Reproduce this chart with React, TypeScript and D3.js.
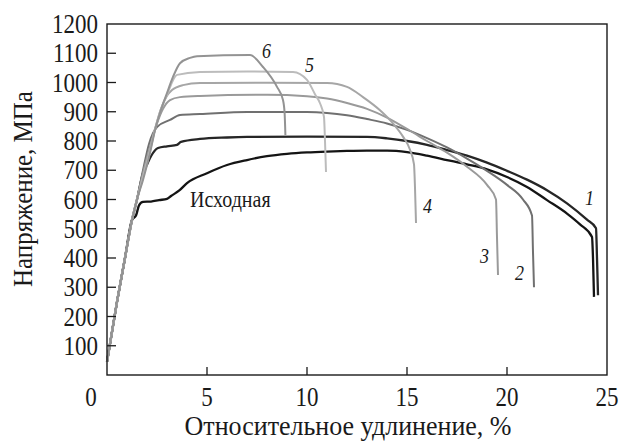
import React, { useEffect, useRef } from 'react'
import * as d3 from 'd3'

// strain, % / stress, MPa
const elastic: [number, number][] = [[0, 45], [0.5, 250], [0.9, 400], [1.25, 530]]

const curveBase: [number, number][] = [
  [1.45, 545], [1.6, 580], [1.8, 592], [2.2, 593], [2.6, 598], [3.0, 602], [3.2, 612], [3.6, 630],
  [4.0, 656], [5.0, 690], [6.0, 718], [7.0, 735], [8, 748], [9, 756], [10, 761], [11, 764],
  [12, 766], [13, 767], [14, 767], [15, 762], [16, 750], [17, 735], [18, 720], [19, 703],
  [20, 677], [21, 643], [22, 598], [23, 552], [23.65, 515], [24.25, 472], [24.3, 400], [24.35, 267],
]
const curve1: [number, number][] = [
  [1.5, 600], [1.8, 690], [2.0, 720], [2.2, 748], [2.55, 776], [3.0, 782], [3.5, 787], [3.7, 797],
  [4.65, 807], [6, 812], [7, 814], [10, 815], [13, 814], [14, 809], [15, 800], [16, 787], [17, 769],
  [18, 750], [19, 726], [20, 698], [21, 668], [22, 632], [23, 587], [24, 531], [24.45, 502],
  [24.5, 400], [24.55, 273],
]
const curve2: [number, number][] = [
  [1.5, 600], [1.8, 700], [2.1, 790], [2.5, 848], [3.15, 872], [3.65, 889], [4.65, 892], [7, 899],
  [10, 899], [11, 896], [12, 888], [13, 875], [14, 860], [15, 838], [16, 810], [17, 778], [18, 740],
  [19, 698], [20, 650], [20.8, 600], [21.25, 545], [21.3, 420], [21.35, 300],
]
const curve3: [number, number][] = [
  [1.5, 600], [1.8, 690], [2.15, 780], [2.5, 860], [2.8, 910], [3.15, 940], [3.65, 950], [4.65, 954],
  [8, 958], [10, 953], [11, 945], [12, 930], [13, 910], [14, 880], [15.15, 835], [16, 800], [17, 760],
  [18, 712], [19, 650], [19.45, 600], [19.5, 470], [19.55, 342],
]
const curve4: [number, number][] = [
  [1.5, 600], [1.8, 680], [2.15, 770], [2.4, 840], [2.7, 910], [3.0, 955], [3.25, 974], [3.8, 991],
  [4.65, 998], [8, 999], [11, 998], [12, 985], [12.8, 950], [13.65, 905], [14.3, 860], [14.8, 815],
  [15.15, 770], [15.35, 720], [15.4, 640], [15.45, 520],
]
const curve5: [number, number][] = [
  [1.5, 600], [1.8, 675], [2.15, 765], [2.4, 840], [2.65, 900], [3.0, 958], [3.5, 1026], [4.65, 1036],
  [7, 1038], [9.3, 1036], [10, 1009], [10.4, 960], [10.65, 929], [10.85, 882], [10.9, 800], [10.95, 694],
]
const curve6: [number, number][] = [
  [1.5, 600], [1.8, 667], [2.15, 759], [2.4, 837], [2.65, 896], [3.0, 964], [3.3, 1019], [3.65, 1066],
  [4.15, 1084], [4.5, 1090], [7.15, 1094], [7.8, 1053], [8.5, 985], [8.8, 940], [8.88, 896], [8.92, 820],
]

const seriesData = [curveBase, curve1, curve2, curve3, curve4, curve5, curve6]
const seriesColors = ['#141414', '#262626', '#707070', '#9a9a9a', '#a6a6a6', '#bcbcbc', '#939393']
const seriesWidths = [2.3, 2.3, 2, 2, 2, 2, 2]

const curveLabels = ['6', '5', '4', '3', '2', '1']
const labelPos: [number, number][] = [[7.75, 1084], [9.9, 1036], [15.8, 554], [18.65, 383], [20.4, 325], [23.9, 581]]
const baseLabel = 'Исходная'

const xTicks = [5, 10, 15, 20, 25]
const yTicks = [100, 200, 300, 400, 500, 600, 700, 800, 900, 1000, 1100, 1200]

const W = 621
const H = 441
const FONT = 'Liberation Serif'

export default function App() {
  const svgRef = useRef<SVGSVGElement>(null)

  useEffect(() => {
    const svg = d3.select(svgRef.current)
    svg.selectAll('*').remove()

    const x = d3.scaleLinear().domain([0, 25]).range([107, 607])
    const y = d3.scaleLinear().domain([0, 1200]).range([375, 24])

    const line = d3.line<[number, number]>()
      .x(d => x(d[0]))
      .y(d => y(d[1]))
      .curve(d3.curveMonotoneX)

    const g = svg.append('g')
    seriesData.forEach((s, i) => {
      g.append('path')
        .attr('d', line(elastic.concat(s)))
        .attr('fill', 'none')
        .attr('stroke', seriesColors[i])
        .attr('stroke-width', seriesWidths[i])
        .attr('stroke-linejoin', 'round')
    })

    // frame
    svg.append('rect')
      .attr('x', 107).attr('y', 24)
      .attr('width', 500).attr('height', 351)
      .attr('fill', 'none').attr('stroke', '#1a1a1a').attr('stroke-width', 1.4)

    // ticks, pointing inside
    svg.append('g').selectAll('line').data(xTicks.slice(0, -1)).join('line')
      .attr('x1', d => x(d)).attr('x2', d => x(d))
      .attr('y1', 375).attr('y2', 367)
      .attr('stroke', '#1a1a1a').attr('stroke-width', 1.3)
    svg.append('g').selectAll('line').data(yTicks.slice(0, -1)).join('line')
      .attr('x1', 107).attr('x2', 116)
      .attr('y1', d => y(d)).attr('y2', d => y(d))
      .attr('stroke', '#1a1a1a').attr('stroke-width', 1.3)

    // the scanned text is a bit taller than it is wide, hence sy
    const txt = svg.append('g')
    const put = (px: number, py: number, s: string | number, size: number, sy: number,
      anchor = 'start', italic = false, rot = 0) =>
      txt.append('text')
        .attr('transform', `translate(${px},${py}) rotate(${rot}) scale(1,${sy})`)
        .attr('font-family', FONT)
        .attr('font-size', size)
        .attr('font-style', italic ? 'italic' : 'normal')
        .attr('text-anchor', anchor)
        .attr('fill', '#1a1a1a')
        .text(s)

    xTicks.forEach(t => put(x(t), 406, t, 23, 1.15, 'middle'))
    put(91, 406, 0, 23, 1.15, 'middle')
    yTicks.forEach(t => put(98, y(t) + 9, t, 23, 1.15, 'end'))

    put(32, 189, 'Напряжение, МПа', 25, 1.05, 'middle', false, -90)
    put(348, 435, 'Относительное удлинение, %', 26, 1.02, 'middle')

    curveLabels.forEach((c, i) => put(x(labelPos[i][0]), y(labelPos[i][1]), c, 18, 1.15, 'start', true))
    put(190, 207, baseLabel, 20, 1.12)
  }, [])

  return (
    <svg ref={svgRef} width={W} height={H}
      style={{ position: 'absolute', left: 0, top: 0, background: '#fff' }} />
  )
}
